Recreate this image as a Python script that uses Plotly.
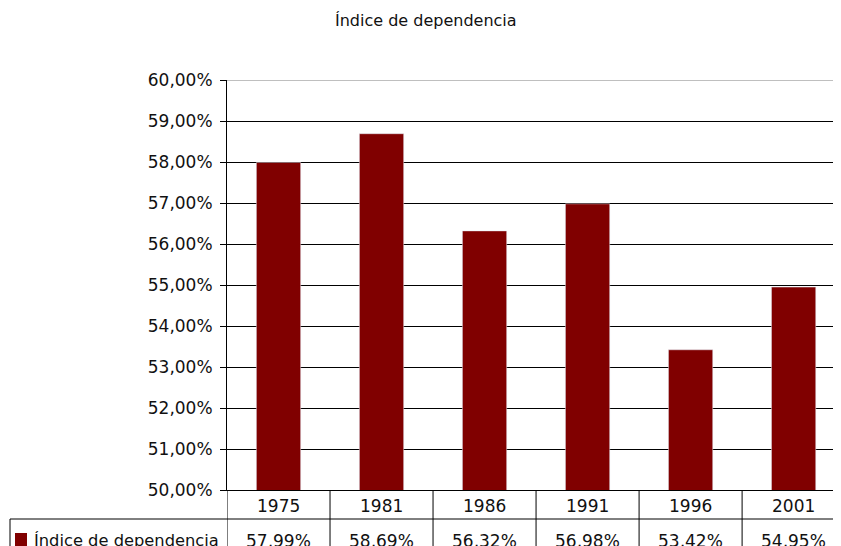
import plotly.graph_objects as go

years = ["1975", "1981", "1986", "1991", "1996", "2001"]
values = [57.99, 58.69, 56.32, 56.98, 53.42, 54.95]
series_name = "Índice de dependencia"
title_text = "Índice de dependencia"
y_ticks = [50, 51, 52, 53, 54, 55, 56, 57, 58, 59, 60]

BAR = "#800000"
FONT = "DejaVu Sans"
TXT = "#111111"
OFF = 8                     # page body margin
W, H = 841 - OFF, 546 - OFF
# reference pixel positions (window coords)
PL, PR, PT, PB = 227, 841, 80, 490
ML, MT = PL - OFF, PT - OFF
MB = (546 - OFF) - (PB - OFF)
PW, PH = PR - PL, PB - PT

def px_x(p):
    return (p - PL) / PW

def px_y(p):
    return (PB - p) / PH

fig = go.Figure()
fig.add_trace(go.Bar(x=list(range(len(years))), y=values, marker_color=BAR,
                     width=0.43, name=series_name, showlegend=False))

ticktext = [f"{v:.2f}".replace(".", ",") + "%" for v in y_ticks]

fig.update_layout(
    width=W, height=H,
    margin=dict(l=ML, r=0, t=MT, b=MB, pad=0),
    plot_bgcolor="white", paper_bgcolor="white",
    font=dict(family=FONT, size=17, color=TXT),
    xaxis=dict(range=[-0.5, 5.46], showticklabels=False, showgrid=False,
               zeroline=False, showline=True, linecolor="black", linewidth=1,
               ticks=""),
    yaxis=dict(range=[50, 60], tickvals=y_ticks, ticktext=ticktext,
               showgrid=True, gridcolor="black", gridwidth=1,
               zeroline=False, showline=True, linecolor="black", linewidth=1,
               ticks="outside", ticklen=6, tickcolor="black", ticklabelstandoff=4,
               tickfont=dict(family=FONT, size=17, color=TXT)),
)

# title
fig.add_annotation(text=title_text, xref="paper", yref="paper",
                   x=px_x(426), y=px_y(20), xanchor="center", yanchor="middle",
                   showarrow=False, font=dict(family=FONT, size=16, color=TXT))

shapes = []
row1 = px_y(519)
bottom = px_y(548)
# top border of plot area
shapes.append(dict(type="line", xref="paper", yref="y", x0=0, x1=1,
                   y0=y_ticks[-1], y1=y_ticks[-1], line=dict(color="#808080", width=1)))
for k in range(len(years) + 1):
    shapes.append(dict(type="line", xref="x", yref="paper", x0=k - 0.5, x1=k - 0.5,
                       y0=0, y1=bottom, line=dict(color="black", width=1), layer="above"))
shapes.append(dict(type="line", xref="paper", yref="paper", x0=px_x(10), x1=1,
                   y0=row1, y1=row1, line=dict(color="black", width=1)))
shapes.append(dict(type="line", xref="paper", yref="paper", x0=px_x(10), x1=px_x(10),
                   y0=row1, y1=bottom, line=dict(color="black", width=1)))
shapes.append(dict(type="rect", xref="paper", yref="paper", x0=px_x(15), x1=px_x(27),
                   y0=px_y(547), y1=px_y(533), fillcolor=BAR, line=dict(width=0)))
fig.update_layout(shapes=shapes)

fig.add_annotation(text=series_name, xref="paper", yref="paper", x=px_x(32), y=px_y(540),
                   xanchor="left", yanchor="middle", showarrow=False,
                   font=dict(family=FONT, size=16.3, color=TXT))

for i, (yr, v) in enumerate(zip(years, values)):
    fig.add_annotation(text=yr, xref="x", yref="paper", x=i, y=px_y(506),
                       xanchor="center", yanchor="middle",
                       showarrow=False, font=dict(family=FONT, size=17, color=TXT))
    fig.add_annotation(text=f"{v:.2f}".replace(".", ",") + "%", xref="x", yref="paper",
                       x=i, y=px_y(541), xanchor="center", yanchor="middle",
                       showarrow=False, font=dict(family=FONT, size=17, color=TXT))

fig.write_html("out.html")
